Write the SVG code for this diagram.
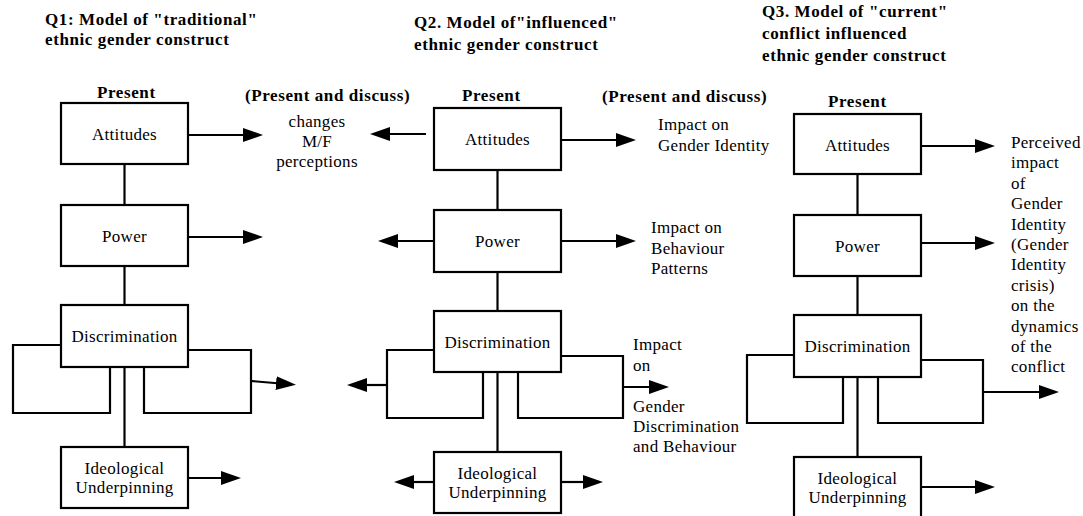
<svg xmlns="http://www.w3.org/2000/svg" width="1083" height="516" viewBox="0 0 1083 516">
<defs>
<marker id="ah" markerUnits="userSpaceOnUse" markerWidth="20" markerHeight="14" refX="10" refY="7" orient="auto">
<path d="M0,0 L20,7 L0,14 Z" fill="#000"/>
</marker>
<style>
.box{fill:#fff;stroke:#000;stroke-width:2.2}
.ln{fill:none;stroke:#000;stroke-width:2.2}
.ar{fill:none;stroke:#000;stroke-width:2.2;marker-end:url(#ah)}
.t{font-family:"Liberation Serif","Times New Roman",serif;font-size:17px;fill:#000;letter-spacing:0.3px}
.c{text-anchor:middle}
.b{font-family:"Liberation Serif","Times New Roman",serif;font-size:17px;font-weight:bold;fill:#000;letter-spacing:0.6px}
</style>
</defs>
<rect width="1083" height="516" fill="#fff"/>

<g id="titles">
<text class="b" x="45" y="25">Q1: Model of "traditional"</text>
<text class="b" x="45" y="45">ethnic gender construct</text>
<text class="b" x="414" y="28">Q2. Model of"influenced"</text>
<text class="b" x="414" y="50">ethnic gender construct</text>
<text class="b" x="762" y="17">Q3. Model of "current"</text>
<text class="b" x="762" y="39">conflict influenced</text>
<text class="b" x="762" y="61">ethnic gender construct</text>
<text class="b" x="97" y="98">Present</text>
<text class="b" x="462" y="101">Present</text>
<text class="b" x="828" y="107">Present</text>
<text class="b" x="245" y="101">(Present and discuss)</text>
<text class="b" x="602" y="102">(Present and discuss)</text>
</g>

<g id="connectors">
<!-- column 1 -->
<line class="ln" x1="124.5" y1="164" x2="124.5" y2="205"/>
<line class="ln" x1="124.5" y1="266" x2="124.5" y2="305"/>
<line class="ln" x1="124.5" y1="367" x2="124.5" y2="447"/>
<path class="ln" d="M61,345 H13 V413 H110 V367"/>
<path class="ln" d="M188,350 H251 V413 H144 V367"/>
<line class="ar" x1="188" y1="135" x2="253" y2="135"/>
<line class="ar" x1="188" y1="237" x2="253" y2="237"/>
<line class="ar" x1="251" y1="381" x2="286" y2="384"/>
<line class="ar" x1="188" y1="478" x2="231" y2="478"/>
<!-- column 2 -->
<line class="ln" x1="497.5" y1="170" x2="497.5" y2="210"/>
<line class="ln" x1="497.5" y1="272" x2="497.5" y2="311"/>
<line class="ln" x1="497.5" y1="372" x2="497.5" y2="452"/>
<path class="ln" d="M434,350 H387 V418 H483 V372"/>
<path class="ln" d="M561,356 H623 V418 H518 V372"/>
<line class="ar" x1="426" y1="134" x2="380" y2="134"/>
<line class="ar" x1="561" y1="140" x2="626" y2="140"/>
<line class="ar" x1="434" y1="241" x2="388" y2="241"/>
<line class="ar" x1="561" y1="241" x2="626" y2="241"/>
<line class="ar" x1="387" y1="385" x2="357" y2="385"/>
<line class="ar" x1="623" y1="387" x2="659" y2="387"/>
<line class="ar" x1="434" y1="482" x2="404" y2="482"/>
<line class="ar" x1="561" y1="482" x2="593" y2="482"/>
<!-- column 3 -->
<line class="ln" x1="857.5" y1="174" x2="857.5" y2="215"/>
<line class="ln" x1="857.5" y1="276" x2="857.5" y2="315"/>
<line class="ln" x1="857.5" y1="377" x2="857.5" y2="457"/>
<path class="ln" d="M794,355 H747 V423 H843 V377"/>
<path class="ln" d="M921,360 H983 V423 H878 V377"/>
<line class="ar" x1="921" y1="146" x2="985" y2="146"/>
<line class="ar" x1="921" y1="243" x2="985" y2="243"/>
<line class="ar" x1="983" y1="392" x2="1049" y2="392"/>
<line class="ar" x1="921" y1="487" x2="985" y2="487"/>
</g>

<g id="q1-attitudes"><rect class="box" x="61" y="103" width="127" height="61"/><text class="t c" x="124.5" y="140">Attitudes</text></g>
<g id="q1-power"><rect class="box" x="61" y="205" width="127" height="61"/><text class="t c" x="124.5" y="242">Power</text></g>
<g id="q1-discrimination"><rect class="box" x="61" y="305" width="127" height="62"/><text class="t c" x="124.5" y="342">Discrimination</text></g>
<g id="q1-ideological"><rect class="box" x="61" y="447" width="127" height="61"/><text class="t c" x="124.5" y="474">Ideological</text><text class="t c" x="124.5" y="493">Underpinning</text></g>

<g id="q2-attitudes"><rect class="box" x="434" y="108" width="127" height="62"/><text class="t c" x="497.5" y="145">Attitudes</text></g>
<g id="q2-power"><rect class="box" x="434" y="210" width="127" height="62"/><text class="t c" x="497.5" y="247">Power</text></g>
<g id="q2-discrimination"><rect class="box" x="434" y="311" width="127" height="61"/><text class="t c" x="497.5" y="348">Discrimination</text></g>
<g id="q2-ideological"><rect class="box" x="434" y="452" width="127" height="61"/><text class="t c" x="497.5" y="479">Ideological</text><text class="t c" x="497.5" y="498">Underpinning</text></g>

<g id="q3-attitudes"><rect class="box" x="794" y="114" width="127" height="60"/><text class="t c" x="857.5" y="151">Attitudes</text></g>
<g id="q3-power"><rect class="box" x="794" y="215" width="127" height="61"/><text class="t c" x="857.5" y="252">Power</text></g>
<g id="q3-discrimination"><rect class="box" x="794" y="315" width="127" height="62"/><text class="t c" x="857.5" y="352">Discrimination</text></g>
<g id="q3-ideological"><rect class="box" x="794" y="457" width="127" height="70"/><text class="t c" x="857.5" y="484">Ideological</text><text class="t c" x="857.5" y="503">Underpinning</text></g>

<g id="labels">
<text class="t c" x="317" y="127">changes</text>
<text class="t c" x="317" y="147">M/F</text>
<text class="t c" x="317" y="167">perceptions</text>
<text class="t" x="658" y="130">Impact on</text>
<text class="t" x="658" y="151">Gender Identity</text>
<text class="t" x="651" y="233">Impact on</text>
<text class="t" x="651" y="254">Behaviour</text>
<text class="t" x="651" y="274">Patterns</text>
<text class="t" x="633" y="350">Impact</text>
<text class="t" x="633" y="371">on</text>
<text class="t" x="633" y="412">Gender</text>
<text class="t" x="633" y="432">Discrimination</text>
<text class="t" x="633" y="452">and Behaviour</text>
<text class="t" x="1011" y="148">Perceived</text>
<text class="t" x="1011" y="168.4">impact</text>
<text class="t" x="1011" y="188.8">of</text>
<text class="t" x="1011" y="209.2">Gender</text>
<text class="t" x="1011" y="229.6">Identity</text>
<text class="t" x="1011" y="250">(Gender</text>
<text class="t" x="1011" y="270.4">Identity</text>
<text class="t" x="1011" y="290.8">crisis)</text>
<text class="t" x="1011" y="311.2">on the</text>
<text class="t" x="1011" y="331.6">dynamics</text>
<text class="t" x="1011" y="352">of the</text>
<text class="t" x="1011" y="372.4">conflict</text>
</g>
</svg>
